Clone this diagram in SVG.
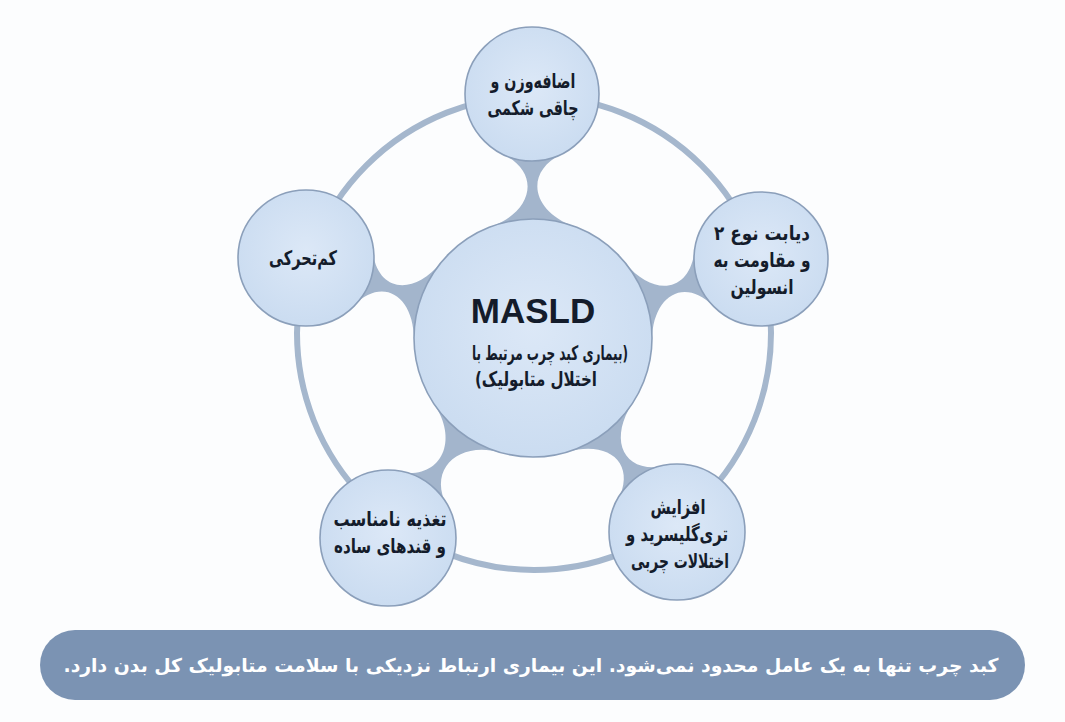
<svg xmlns="http://www.w3.org/2000/svg" width="1065" height="722" viewBox="0 0 1065 722">
<defs>
<radialGradient id="g" cx="50%" cy="45%" r="60%">
<stop offset="0" stop-color="#dce8f7"/>
<stop offset="1" stop-color="#c9dbf0"/>
</radialGradient>
<style>
.node{fill:url(#g);stroke:#8b9fba;stroke-width:1.6}
.neck{fill:#a3b5cc}
.fa{font-family:"DejaVu Sans",sans-serif;font-weight:bold;fill:#141c2b;text-anchor:middle;direction:rtl}
.s{font-size:20px}
</style>
</defs>
<rect width="1065" height="722" fill="#fcfdfe"/>
<g id="connectors">
<circle cx="534" cy="333" r="237" fill="none" stroke="#a5b7cd" stroke-width="6"/>
<path class="neck" transform="translate(533 338) rotate(-90.2)" d="M111.8 40.7 C126.5 0.3 165 -9.3 183.8 29.4 L183.8 -29.4 C165 9.3 126.5 -0.3 111.8 -40.7 Z"/>
<path class="neck" transform="translate(533 338) rotate(-19.1)" d="M111.8 40.7 C126.5 0.3 162.3 -9.3 181.1 29.4 L181.1 -29.4 C162.3 9.3 126.5 -0.3 111.8 -40.7 Z"/>
<path class="neck" transform="translate(533 338) rotate(53.4)" d="M111.8 40.7 C126.5 0.3 162.6 -9.3 181.4 29.4 L181.4 -29.4 C162.6 9.3 126.5 -0.3 111.8 -40.7 Z"/>
<path class="neck" transform="translate(533 338) rotate(125.9)" d="M111.8 40.7 C126.5 0.3 168 -9.3 186.8 29.4 L186.8 -29.4 C168 9.3 126.5 -0.3 111.8 -40.7 Z"/>
<path class="neck" transform="translate(533 338) rotate(-160.6)" d="M111.8 40.7 C126.5 0.3 161.7 -9.3 180.5 29.4 L180.5 -29.4 C161.7 9.3 126.5 -0.3 111.8 -40.7 Z"/>
</g>
<g id="center">
<circle class="node" cx="533" cy="338" r="119"/>
<text x="533" y="323" text-anchor="middle" font-family="Liberation Sans, Arial, sans-serif" font-weight="bold" font-size="35" fill="#141c2b">MASLD</text>
<text class="fa" x="550" y="360" font-size="20" textLength="156" lengthAdjust="spacingAndGlyphs">(بیماری کبد چرب مرتبط با</text>
<text class="fa" x="536" y="386" font-size="20" textLength="122" lengthAdjust="spacingAndGlyphs">اختلال متابولیک)</text>
</g>
<g id="n-top">
<circle class="node" cx="532" cy="94" r="67"/>
<text class="fa s" x="533" y="88" textLength="85" lengthAdjust="spacingAndGlyphs">اضافه‌وزن و</text>
<text class="fa s" x="533" y="115" textLength="91" lengthAdjust="spacingAndGlyphs">چاقی شکمی</text>
</g>
<g id="n-right">
<circle class="node" cx="761" cy="259" r="67"/>
<text class="fa s" x="762" y="240" textLength="96" lengthAdjust="spacingAndGlyphs">دیابت نوع ۲</text>
<text class="fa s" x="762" y="267" textLength="97" lengthAdjust="spacingAndGlyphs">و مقاومت به</text>
<text class="fa s" x="762" y="294" textLength="63" lengthAdjust="spacingAndGlyphs">انسولین</text>
</g>
<g id="n-bottom-right">
<circle class="node" cx="677" cy="532" r="68"/>
<text class="fa s" x="678" y="514" textLength="55" lengthAdjust="spacingAndGlyphs">افزایش</text>
<text class="fa s" x="677" y="541" textLength="102" lengthAdjust="spacingAndGlyphs">تری‌گلیسرید و</text>
<text class="fa s" x="680" y="568" textLength="98" lengthAdjust="spacingAndGlyphs">اختلالات چربی</text>
</g>
<g id="n-bottom-left">
<circle class="node" cx="388" cy="538" r="68"/>
<text class="fa s" x="390" y="526" textLength="113" lengthAdjust="spacingAndGlyphs">تغذیه نامناسب</text>
<text class="fa s" x="390" y="553" textLength="112" lengthAdjust="spacingAndGlyphs">و قندهای ساده</text>
</g>
<g id="n-left">
<circle class="node" cx="306" cy="258" r="68"/>
<text class="fa s" x="303" y="265" textLength="68" lengthAdjust="spacingAndGlyphs">کم‌تحرکی</text>
</g>
<g id="banner">
<rect x="40" y="630" width="985" height="70" rx="35" fill="#7b93b3"/>
<text x="531" y="672" text-anchor="middle" direction="rtl" font-family="DejaVu Sans, sans-serif" font-weight="bold" font-size="19" fill="#ffffff" textLength="935" lengthAdjust="spacingAndGlyphs">کبد چرب تنها به یک عامل محدود نمی‌شود. این بیماری ارتباط نزدیکی با سلامت متابولیک کل بدن دارد.</text>
</g>
</svg>
